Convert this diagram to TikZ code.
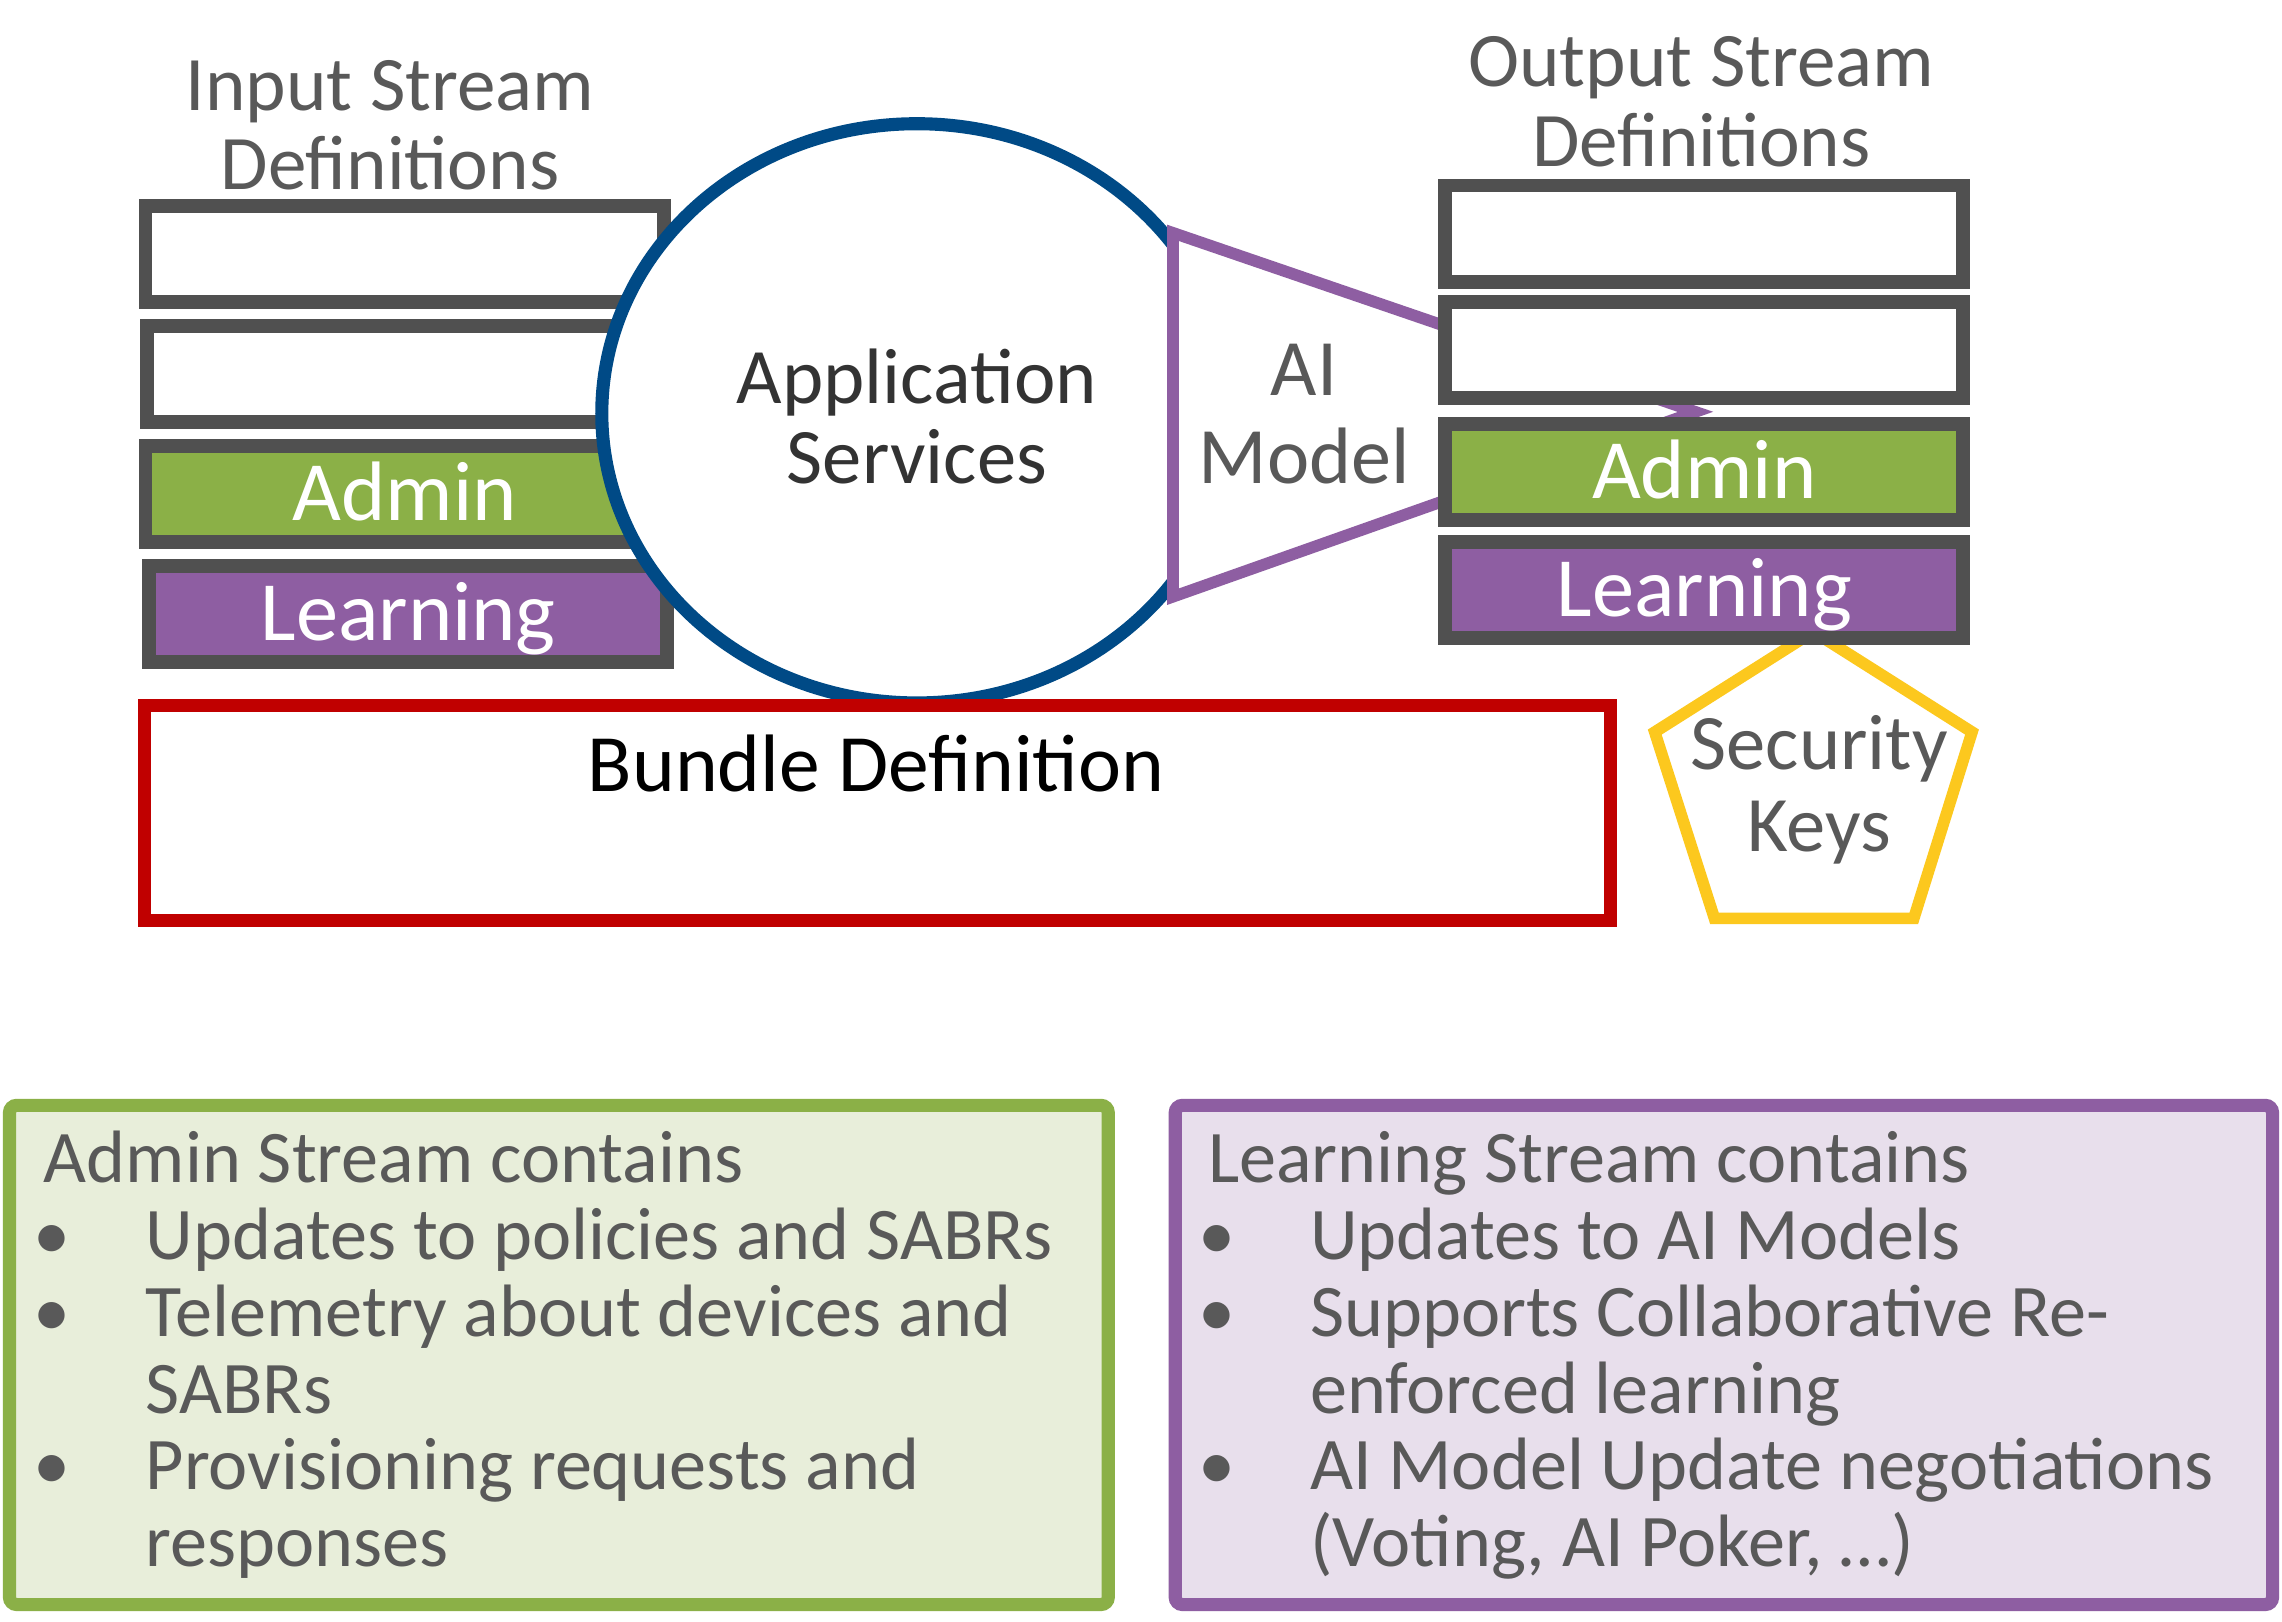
\documentclass[tikz,border=0pt]{standalone}
\usepackage{fontspec}
\setmainfont{Carlito}
\usetikzlibrary{shapes.geometric}
\definecolor{boxgray}{RGB}{80,80,80}
\definecolor{txtgray}{RGB}{89,89,89}
\definecolor{admingreen}{RGB}{139,176,71}
\definecolor{learnpurple}{RGB}{142,94,162}
\definecolor{circblue}{RGB}{0,74,134}
\definecolor{bundlered}{RGB}{192,0,0}
\definecolor{keyyellow}{RGB}{252,200,30}
\definecolor{lightgreen}{RGB}{232,238,218}
\definecolor{lightpurple}{RGB}{232,223,236}
\newcommand{\bul}{\makebox[70pt][l]{\hspace*{-7pt}\textbullet}}
\begin{document}
\begin{tikzpicture}[x=1pt,y=-1pt,
  streambox/.style={draw=boxgray, line width=9.5pt, minimum width=356pt, minimum height=66pt, inner sep=0pt, outer sep=0pt},
  boxlabel/.style={text=white, font=\fontsize{58}{60}\selectfont, text height=36pt, text depth=0pt},
  titletext/.style={text=txtgray, align=center, anchor=base, inner sep=0pt, font=\fontsize{53}{54}\selectfont},
  paneltext/.style={text=txtgray, align=left, anchor=base west, font=\fontsize{51}{52.8}\selectfont, inner sep=0pt},
  panel/.style={line width=9pt, rounded corners=5pt, minimum width=755pt, minimum height=343pt, inner sep=0pt}]
\useasboundingbox (0,0) rectangle (1568,1114);
\fill[white] (0,0) rectangle (1568,1114);
% input stream
\node[titletext] (intitle) at (268,130) {Input Stream\\Definitions};
\node[streambox, fill=white] (in1) at (278,174.5) {};
\node[streambox, fill=white] (in2) at (279,257) {};
\node[streambox, fill=admingreen, boxlabel] (inadmin) at (278,339.5) {Admin};
\node[streambox, fill=learnpurple, boxlabel] (inlearn) at (280.5,422) {Learning};
% application services
\node[ellipse, draw=circblue, line width=9pt, fill=white, minimum width=433pt, minimum height=398pt, inner sep=0pt] (app) at (630,284) {};
\node[titletext, text=black!80, font=\fontsize{54}{55}\selectfont] (apptext) at (630,332) {Application\\Services};
% AI model
\coordinate (aitop) at (806,160);
\coordinate (aitip) at (1165,283);
\coordinate (aibot) at (806,410);
\draw[learnpurple, line width=8pt, fill=white, miter limit=10] (aitop) -- (aitip) -- (aibot) -- cycle;
\node[titletext, font=\fontsize{55}{60}\selectfont] (aitext) at (896,332) {AI\\Model};
% bundle
\node[draw=bundlered, line width=9pt, fill=white, minimum width=1007pt, minimum height=148pt, inner sep=0pt] (bundle) at (603,558.5) {};
\node[titletext, text=black, font=\fontsize{56}{60}\selectfont] (bundletext) at (602,544) {Bundle Definition};
% security keys
\draw[keyyellow, line width=8pt, fill=white, line join=miter] (1246,434) -- (1355,503) -- (1315,631) -- (1178,631) -- (1137,503) -- cycle;
\node[titletext, font=\fontsize{54}{56}\selectfont] (keys) at (1250,585) {Security\\Keys};
% output stream
\node[titletext, font=\fontsize{53}{55}\selectfont] (outtitle) at (1169,114.5) {Output Stream\\Definitions};
\node[streambox, fill=white] (out1) at (1171,160.5) {};
\node[streambox, fill=white] (out2) at (1171,240.5) {};
\node[streambox, fill=admingreen, boxlabel] (outadmin) at (1171,324.5) {Admin};
\node[streambox, fill=learnpurple, boxlabel] (outlearn) at (1171,405.5) {Learning};
% panels
\node[panel, draw=admingreen, fill=lightgreen] (adminpanel) at (384,931) {};
\node[panel, draw=learnpurple, fill=lightpurple, minimum width=754pt] (learnpanel) at (1184.5,931) {};
\node[paneltext] (admintext) at (30,1076.5) {Admin Stream contains\\
\bul Updates to policies and SABRs\\
\bul Telemetry about devices and\\
\hspace*{70pt}SABRs\\
\bul Provisioning requests and\\
\hspace*{70pt}responses};
\node[paneltext] (learntext) at (830,1076.5) {Learning Stream contains\\
\bul Updates to AI Models\\
\bul Supports Collaborative Re-\\
\hspace*{70pt}enforced learning\\
\bul AI Model Update negotiations\\
\hspace*{70pt}(Voting, AI Poker, …)};
\end{tikzpicture}
\end{document}
